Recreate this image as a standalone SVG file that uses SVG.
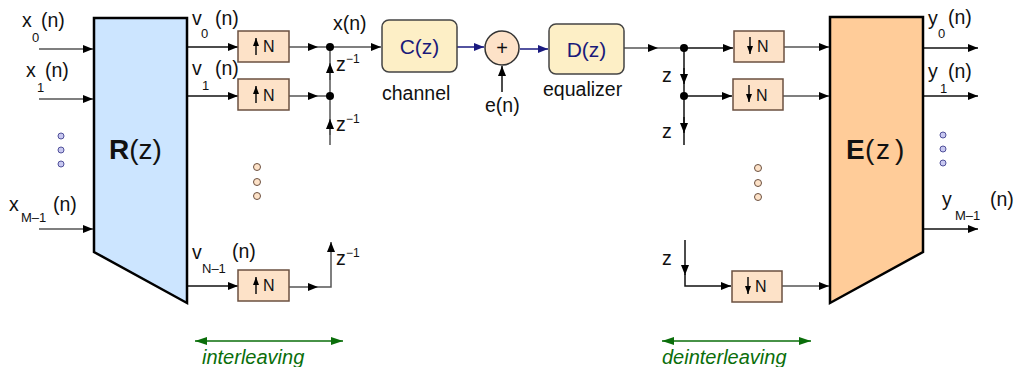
<svg xmlns="http://www.w3.org/2000/svg" width="1014" height="367" viewBox="0 0 1014 367">
<style>
text{font-family:"Liberation Sans",Arial,sans-serif;fill:#111}
.lbl{font-size:19.5px}
.sub{font-size:13px}
.sup{font-size:12px}
.n{font-size:16px}
.navyT{fill:#1a1a7a;font-size:21px}
.grn{fill:#0a6e0a;font-size:20px;font-style:italic}
.ln{fill:none;stroke:#555;stroke-width:1.5}
.lk{fill:none;stroke:#111;stroke-width:1.5}
.nv{fill:none;stroke:#1a1a80;stroke-width:1.5}
.box{fill:#fde2c8;stroke:#6b5040;stroke-width:1.5}
.fbox{fill:#fdefc6;stroke:#444;stroke-width:1.5}
.bdot{fill:#c8c8f0;stroke:#50509a;stroke-width:1}
.pdot{fill:#fde2c8;stroke:#6b5040;stroke-width:1}
</style>
<defs>
<marker id="ah" viewBox="0 0 10 8" refX="10" refY="4" markerWidth="10" markerHeight="8" markerUnits="userSpaceOnUse" orient="auto"><path d="M0,0 L10,4 L0,8 Z" fill="#000"/></marker>
<marker id="ahn" viewBox="0 0 10 8" refX="10" refY="4" markerWidth="10" markerHeight="8" markerUnits="userSpaceOnUse" orient="auto"><path d="M0,0 L10,4 L0,8 Z" fill="#1a1a80"/></marker>
<marker id="ahs" viewBox="0 0 8 6" refX="8" refY="3" markerWidth="8" markerHeight="6" markerUnits="userSpaceOnUse" orient="auto"><path d="M0,0 L8,3 L0,6 Z" fill="#000"/></marker>
<marker id="ahg" viewBox="0 0 12 8" refX="12" refY="4" markerWidth="12" markerHeight="8" markerUnits="userSpaceOnUse" orient="auto-start-reverse"><path d="M0,0 L12,4 L0,8 Z" fill="#0a6e0a"/></marker>
</defs>

<g id="connectors">
<path class="ln" d="M39,49 H93" marker-end="url(#ah)"/>
<path class="ln" d="M39,99 H93" marker-end="url(#ah)"/>
<path class="ln" d="M39,229 H93" marker-end="url(#ah)"/>
<path class="lk" d="M187,47 H238" marker-end="url(#ah)"/>
<path class="lk" d="M187,96 H238" marker-end="url(#ah)"/>
<path class="lk" d="M187,286 H238" marker-end="url(#ah)"/>
<path class="ln" d="M289,47 H318" marker-end="url(#ah)"/>
<path class="ln" d="M318,47 H330"/>
<path class="ln" d="M289,96 H318" marker-end="url(#ah)"/>
<path class="ln" d="M318,96 H330"/>
<path class="ln" d="M330,47 H381" marker-end="url(#ah)"/>
<path class="ln" d="M330,145 V47"/>
<path class="ln" d="M330,80 V63" marker-end="url(#ah)"/>
<path class="ln" d="M330,135 V119" marker-end="url(#ah)"/>
<path class="ln" d="M289,287 H318" marker-end="url(#ah)"/>
<path class="ln" d="M318,287 H331 V242" marker-end="url(#ah)"/>
<path class="nv" d="M457,47 H484" marker-end="url(#ahn)"/>
<path class="nv" d="M520,49 H548" marker-end="url(#ahn)"/>
<path class="lk" d="M502,92 V66" marker-end="url(#ah)"/>
<path class="ln" d="M624,48 H658" marker-end="url(#ah)"/>
<path class="ln" d="M658,48 H684"/>
<path class="lk" d="M684,48 H733" marker-end="url(#ah)"/>
<path class="lk" d="M684,96 H732" marker-end="url(#ah)"/>
<path class="lk" d="M684,48 V145"/>
<path class="lk" d="M684,68 V84" marker-end="url(#ah)"/>
<path class="lk" d="M684,117 V133" marker-end="url(#ah)"/>
<path class="lk" d="M685,240 V275" marker-end="url(#ah)"/>
<path class="lk" d="M685,274 V286 H731" marker-end="url(#ah)"/>
<path class="ln" d="M784,47 H829" marker-end="url(#ah)"/>
<path class="ln" d="M783,96 H829" marker-end="url(#ah)"/>
<path class="ln" d="M782,286 H829" marker-end="url(#ah)"/>
<path class="lk" d="M923,48 H978" marker-end="url(#ah)"/>
<path class="lk" d="M923,96 H978" marker-end="url(#ah)"/>
<path class="lk" d="M923,229 H978" marker-end="url(#ah)"/>
<circle cx="330" cy="47" r="4" fill="#000"/>
<circle cx="330" cy="96" r="4" fill="#000"/>
<circle cx="684" cy="48" r="4" fill="#000"/>
<circle cx="684" cy="96" r="4" fill="#000"/>
<path d="M195,341 H343" stroke="#0a6e0a" stroke-width="1.5" fill="none" marker-start="url(#ahg)" marker-end="url(#ahg)"/>
<path d="M662,341 H811" stroke="#0a6e0a" stroke-width="1.5" fill="none" marker-start="url(#ahg)" marker-end="url(#ahg)"/>
</g>

<g id="R">
<path d="M94,18 H187 V303 L94,252 Z" fill="#cce5ff" stroke="#000" stroke-width="2.5"/>
<text x="109" y="159" style="font-size:28px"><tspan font-weight="bold">R</tspan>(z)</text>
</g>
<g id="E">
<path d="M830,17 H923 V252 L830,303 Z" fill="#ffcc99" stroke="#000" stroke-width="2.5"/>
<text y="159" style="font-size:28px"><tspan x="846" font-weight="bold">E</tspan><tspan x="865">(</tspan><tspan x="876">z</tspan><tspan x="895">)</tspan></text>
</g>

<g id="inputs">
<text class="lbl" x="22" y="27">x</text><text class="sub" x="32" y="42">0</text><text class="lbl" x="41" y="27">(n)</text>
<text class="lbl" x="26" y="77">x</text><text class="sub" x="37" y="92">1</text><text class="lbl" x="45" y="77">(n)</text>
<text class="lbl" x="9" y="211">x</text><text class="sub" x="21" y="222">M–1</text><text class="lbl" x="53" y="211">(n)</text>
<circle class="bdot" cx="61" cy="136" r="3"/><circle class="bdot" cx="61" cy="150" r="3"/><circle class="bdot" cx="61" cy="164" r="3"/>
</g>

<g id="vlabels">
<text class="lbl" x="192" y="25">v</text><text class="sub" x="201" y="38">0</text><text class="lbl" x="215" y="25">(n)</text>
<text class="lbl" x="192" y="75">v</text><text class="sub" x="202" y="90">1</text><text class="lbl" x="215" y="75">(n)</text>
<text class="lbl" x="192" y="259">v</text><text class="sub" x="202" y="273">N–1</text><text class="lbl" x="232" y="258">(n)</text>
<circle class="pdot" cx="257" cy="167" r="3.5"/><circle class="pdot" cx="257" cy="182" r="3.5"/><circle class="pdot" cx="257" cy="196" r="3.5"/>
</g>

<g id="up0">
<rect class="box" x="238" y="31" width="51" height="31"/>
<path class="lk" d="M256,55 V38" marker-end="url(#ahs)"/>
<text class="n" x="263" y="52">N</text>
</g>
<g id="up1">
<rect class="box" x="238" y="79" width="51" height="31"/>
<path class="lk" d="M256,103 V86" marker-end="url(#ahs)"/>
<text class="n" x="263" y="101">N</text>
</g>
<g id="upN">
<rect class="box" x="238" y="270" width="51" height="31"/>
<path class="lk" d="M256,294 V277" marker-end="url(#ahs)"/>
<text class="n" x="263" y="291">N</text>
</g>

<g id="delays-left">
<text class="lbl" x="333" y="30">x(n)</text>
<text class="lbl" x="336" y="71">z</text><text class="sup" x="346" y="63">−1</text>
<text class="lbl" x="336" y="131">z</text><text class="sup" x="346" y="123">−1</text>
<text class="lbl" x="336" y="265">z</text><text class="sup" x="346" y="257">−1</text>
</g>

<g id="C">
<rect class="fbox" x="382" y="20" width="75" height="52" rx="7"/>
<text class="navyT" x="419.5" y="54" text-anchor="middle">C(z)</text>
<text class="lbl" x="382" y="100">channel</text>
</g>
<g id="sum">
<circle cx="502" cy="48" r="17" fill="#fde2c8" stroke="#333" stroke-width="1.5"/>
<text x="502" y="55" text-anchor="middle" style="font-size:20px">+</text>
<text class="lbl" x="485" y="112">e(n)</text>
</g>
<g id="D">
<rect class="fbox" x="549" y="24" width="75" height="50" rx="7"/>
<text class="navyT" x="586.5" y="57" text-anchor="middle">D(z)</text>
<text class="lbl" x="543" y="96">equalizer</text>
</g>

<g id="delays-right">
<text class="lbl" x="662" y="82">z</text>
<text class="lbl" x="662" y="138">z</text>
<text class="lbl" x="662" y="265">z</text>
<circle class="pdot" cx="758" cy="168" r="3.5"/><circle class="pdot" cx="758" cy="183" r="3.5"/><circle class="pdot" cx="758" cy="197" r="3.5"/>
</g>

<g id="down0">
<rect class="box" x="734" y="31" width="50" height="31"/>
<path class="lk" d="M750,37 V54" marker-end="url(#ahs)"/>
<text class="n" x="757" y="52">N</text>
</g>
<g id="down1">
<rect class="box" x="733" y="79" width="50" height="31"/>
<path class="lk" d="M749,85 V102" marker-end="url(#ahs)"/>
<text class="n" x="756" y="101">N</text>
</g>
<g id="downN">
<rect class="box" x="732" y="271" width="50" height="31"/>
<path class="lk" d="M748,277 V294" marker-end="url(#ahs)"/>
<text class="n" x="755" y="292">N</text>
</g>

<g id="outputs">
<text class="lbl" x="928" y="25">y</text><text class="sub" x="938" y="38">0</text><text class="lbl" x="948" y="24">(n)</text>
<text class="lbl" x="928" y="78">y</text><text class="sub" x="940" y="93">1</text><text class="lbl" x="948" y="78">(n)</text>
<text class="lbl" x="942" y="206">y</text><text class="sub" x="955" y="220">M–1</text><text class="lbl" x="990" y="206">(n)</text>
<circle class="bdot" cx="943" cy="135" r="3"/><circle class="bdot" cx="943" cy="149" r="3"/><circle class="bdot" cx="943" cy="163" r="3"/>
</g>

<g id="legend">
<text class="grn" x="202" y="364">interleaving</text>
<text class="grn" x="662" y="364">deinterleaving</text>
</g>
</svg>
